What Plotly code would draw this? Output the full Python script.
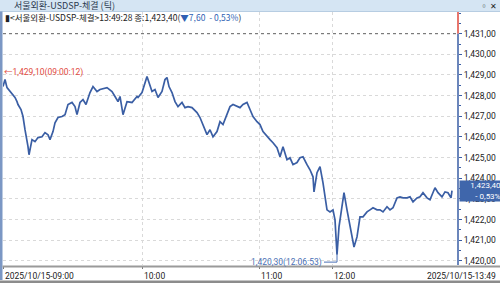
import plotly.graph_objects as go

# ---- data (tick sequence number vs price) ----
tick_no = [0, 20, 40, 70, 100, 120, 140, 150, 180, 200, 220, 240, 250, 260, 290, 320, 350, 390, 420, 450,
           470, 500, 520, 550, 590, 620, 650, 690, 720, 740, 770, 800, 830, 870, 900, 940, 970, 1040, 1090, 1120,
           1150, 1170, 1200, 1240, 1290, 1340, 1350, 1390, 1410, 1440, 1460, 1490, 1520, 1550, 1590, 1620, 1640, 1660, 1690, 1720,
           1750, 1790, 1820, 1850, 1890, 1940, 1970, 2000, 2040, 2070, 2100, 2140, 2170, 2200, 2240, 2270, 2300, 2340, 2370, 2400,
           2440, 2470, 2500, 2540, 2570, 2600, 2640, 2670, 2700, 2740, 2770, 2800, 2840, 2870, 2900, 2940, 2970, 3000, 3040, 3070,
           3100, 3110, 3140, 3170, 3200, 3240, 3270, 3300, 3320, 3340, 3360, 3390, 3410, 3440, 3470, 3510, 3540, 3570, 3600, 3640,
           3670, 3700, 3740, 3770, 3800, 3840, 3870, 3900, 3940, 3970, 4000, 4040, 4070, 4100, 4140, 4170, 4200, 4240, 4270, 4320,
           4350, 4390, 4420, 4450, 4480, 4490]
price = [1428.44, 1428.78, 1428.39, 1428.20, 1428.05, 1427.91, 1427.71, 1427.57, 1427.33, 1426.99, 1426.35, 1425.87, 1425.53, 1425.14, 1425.87, 1425.77, 1425.97, 1426.01, 1426.21, 1426.11,
         1425.87, 1426.26, 1426.69, 1426.94, 1426.99, 1427.08, 1427.57, 1427.67, 1427.47, 1427.08, 1427.67, 1427.81, 1427.57, 1428.15, 1428.44, 1428.20, 1428.30, 1428.39, 1428.20, 1427.96,
         1427.71, 1427.96, 1427.08, 1427.71, 1427.67, 1427.96, 1427.91, 1428.15, 1428.44, 1428.93, 1428.64, 1428.20, 1428.30, 1427.91, 1428.20, 1428.78, 1428.88, 1428.44, 1428.15, 1427.71,
         1427.47, 1427.67, 1427.42, 1427.47, 1427.42, 1427.18, 1426.94, 1426.60, 1426.11, 1426.35, 1426.01, 1426.26, 1426.74, 1426.60, 1427.08, 1427.47, 1427.57, 1427.47, 1427.42, 1427.57,
         1427.67, 1427.33, 1426.99, 1426.74, 1426.60, 1426.26, 1426.01, 1425.87, 1425.72, 1425.48, 1425.04, 1425.53, 1424.90, 1424.99, 1424.66, 1424.76, 1424.99, 1425.04, 1424.66, 1424.41,
         1424.07, 1423.34, 1424.27, 1424.56, 1423.78, 1422.47, 1422.37, 1422.47, 1421.99, 1420.30, 1421.65, 1422.62, 1423.30, 1422.47, 1421.65, 1420.67, 1421.16, 1422.13, 1422.13, 1422.37,
         1422.47, 1422.57, 1422.47, 1422.47, 1422.37, 1422.62, 1422.47, 1422.57, 1423.05, 1423.10, 1423.05, 1423.05, 1423.10, 1422.86, 1423.05, 1423.10, 1423.30, 1423.05, 1422.96, 1423.54,
         1423.30, 1423.10, 1423.34, 1423.30, 1423.05, 1423.40]

prev_close = 1431.00
y_ticks = [1420, 1421, 1422, 1423, 1424, 1425, 1426, 1427, 1428, 1429, 1430, 1431]
y_tick_labels = ["1,420,00", "1,421,00", "1,422,00", "1,423,00", "1,424,00", "1,425,00",
                 "1,426,00", "1,427,00", "1,428,00", "1,429,00", "1,430,00", "1,431,00"]
x_ticks = [0, 1390, 2560, 3290]
x_tick_labels = ["2025/10/15-09:00", "10:00", "11:00", "12:00"]
end_label = "2025/10/15-13:49"
title_text = "서울외환-USDSP-체결 (틱)"
open_label = "←1,429,10(09:00:12)"
open_price = 1429.10
min_label = "1,420,30(12:06:53)"
last_label = "1,423,40<br>- 0,53%"

W, H = 500, 283
ML, MR, MT, MB = 3, 42, 12, 18
PW = W - ML - MR
PH = H - MT - MB
X_RANGE = [0, 4550]
Y_RANGE = [1419.80, 1432.05]

def px_x(p):  # paper x from pixel
    return (p - ML) / PW

def px_y(p):  # paper y from pixel
    return (H - MB - p) / PH

LINE = "#3a5ea4"
FONT = "Roboto, Noto Sans CJK KR, sans-serif"
KFONT = "Noto Sans CJK KR, sans-serif"

fig = go.Figure()
fig.add_trace(go.Scatter(x=tick_no, y=price, mode="lines",
                         line=dict(color=LINE, width=1.7), hoverinfo="skip"))

shapes = []
# title bar
shapes.append(dict(type="rect", xref="paper", yref="paper", x0=px_x(0), x1=px_x(W), y0=px_y(11), y1=px_y(0),
                   fillcolor="#d5e5f3", line=dict(width=0), layer="above"))
shapes.append(dict(type="line", xref="paper", yref="paper", x0=px_x(0), x1=px_x(W), y0=px_y(11.5), y1=px_y(11.5),
                   line=dict(color="#b7cde2", width=1), layer="above"))
# left frame strip
shapes.append(dict(type="rect", xref="paper", yref="paper", x0=px_x(0), x1=px_x(2.5), y0=px_y(280), y1=px_y(11.5),
                   fillcolor="#7b97c4", line=dict(width=0), layer="above"))
# bottom axis bar
shapes.append(dict(type="line", xref="paper", yref="paper", x0=px_x(2.5), x1=px_x(W), y0=px_y(266.5), y1=px_y(266.5),
                   line=dict(color="#9a9a9a", width=2), layer="above"))
# bottom frame
shapes.append(dict(type="rect", xref="paper", yref="paper", x0=px_x(0), x1=px_x(W), y0=px_y(H), y1=px_y(280.5),
                   fillcolor="#8c8c8c", line=dict(width=0), layer="above"))
# previous close dotted line
shapes.append(dict(type="line", xref="paper", yref="y", x0=0, x1=1, y0=prev_close, y1=prev_close,
                   line=dict(color="#666666", width=1, dash="dot")))
# right axis line: red above prev close, blue below
shapes.append(dict(type="line", xref="paper", yref="y", x0=1, x1=1, y0=prev_close, y1=Y_RANGE[1],
                   line=dict(color="#e0483c", width=1.5), layer="above"))
shapes.append(dict(type="line", xref="paper", yref="y", x0=1, x1=1, y0=Y_RANGE[0], y1=prev_close,
                   line=dict(color=LINE, width=1.5), layer="above"))
# min connector
min_i = price.index(min(price))
mx, my = tick_no[min_i], price[min_i]
shapes.append(dict(type="line", xref="x", yref="y", x0=mx - 130, x1=mx, y0=my - 0.36, y1=my - 0.36,
                   line=dict(color="#4a70b5", width=1)))
shapes.append(dict(type="line", xref="x", yref="y", x0=mx, x1=mx, y0=my - 0.36, y1=my,
                   line=dict(color="#4a70b5", width=1)))

ann = []
ann.append(dict(xref="paper", yref="paper", x=px_x(12), y=px_y(6), text=title_text, showarrow=False,
                xanchor="left", yanchor="middle", font=dict(family=KFONT, size=9, color="#2b3a4f")))
ann.append(dict(xref="paper", yref="paper", x=px_x(478), y=px_y(6), text="▫ ✕", showarrow=False,
                xanchor="left", yanchor="middle", font=dict(family=KFONT, size=8, color="#222222")))
sub = ("▮&lt;서울외환-USDSP-체결&gt;13:49:28 종:1,423,40("
       "<span style='color:#2f5fb3'>▼7,60  - 0,53%</span>)")
ann.append(dict(xref="paper", yref="paper", x=px_x(3), y=px_y(17.5), text=sub, showarrow=False,
                xanchor="left", yanchor="middle", font=dict(family=KFONT, size=8.5, color="#222222")))
ann.append(dict(xref="x", yref="y", x=tick_no[0], y=open_price, text=open_label, showarrow=False,
                xanchor="left", yanchor="middle", xshift=-1, font=dict(family=FONT, size=8.5, color="#df4a3e")))
ann.append(dict(xref="x", yref="y", x=mx - 130, y=my - 0.36, text=min_label, showarrow=False,
                xanchor="right", yanchor="middle", font=dict(family=FONT, size=8.5, color="#4a70b5")))
ann.append(dict(xref="paper", yref="y", x=1, y=price[-1], text=last_label, showarrow=False,
                xanchor="left", yanchor="middle", xshift=1, align="right", width=41, height=20,
                bgcolor="#3f66ab", borderpad=0, font=dict(family=FONT, size=8, color="#ffffff")))
for tv, tl in zip(x_ticks, x_tick_labels):
    ann.append(dict(xref="x", yref="paper", x=tv, y=px_y(269), text=tl, showarrow=False,
                    xanchor="left", yanchor="top", font=dict(family=FONT, size=8.5, color="#222222")))
ann.append(dict(xref="paper", yref="paper", x=px_x(498), y=px_y(269), text=end_label, showarrow=False,
                xanchor="right", yanchor="top", font=dict(family=FONT, size=8.5, color="#222222")))

fig.update_layout(
    width=W, height=H, margin=dict(l=ML, r=MR, t=MT, b=MB),
    paper_bgcolor="#ffffff", plot_bgcolor="#ffffff", showlegend=False,
    shapes=shapes, annotations=ann,
    xaxis=dict(range=X_RANGE, tickvals=x_ticks, showticklabels=False, ticks="outside", ticklen=3,
               tickcolor="#777777", showgrid=True, gridcolor="#d9d9d9", griddash="dot", gridwidth=1,
               zeroline=False, showline=False, fixedrange=True),
    yaxis=dict(range=Y_RANGE, side="right", tickvals=y_ticks, ticktext=y_tick_labels,
               ticks="outside", ticklen=3, tickcolor=LINE, showgrid=True, gridcolor="#d9d9d9",
               griddash="dot", gridwidth=1, zeroline=False, showline=False,
               tickfont=dict(family=FONT, size=8.5, color="#222222"),
               minor=dict(dtick=0.5, tick0=1420, ticks="outside", ticklen=2, tickcolor=LINE, showgrid=False),
               fixedrange=True),
)

fig.write_html("out.html")
